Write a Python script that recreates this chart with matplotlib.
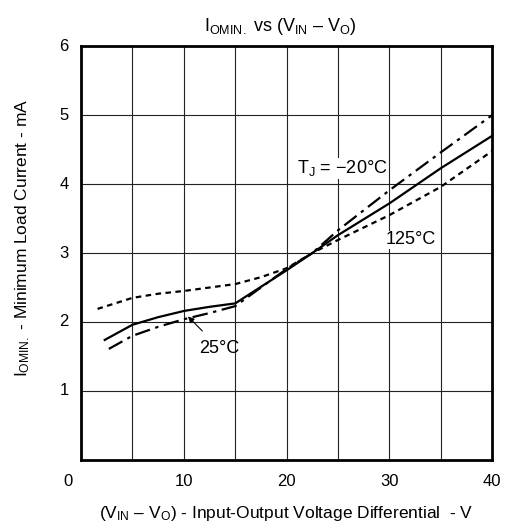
import matplotlib
matplotlib.use("Agg")
import matplotlib.pyplot as plt

plt.rcParams["font.family"] = ["Liberation Sans", "DejaVu Sans"]
plt.rcParams["mathtext.fontset"] = "custom"
plt.rcParams["mathtext.rm"] = "Liberation Sans"
plt.rcParams["mathtext.it"] = "Liberation Sans"

# -20 C (dash-dot)
x_cold = [2.7, 5, 7.5, 10, 12.5, 15, 17.5, 20, 22.5, 25, 30, 35, 40]
y_cold = [1.61, 1.80, 1.93, 2.04, 2.13, 2.23, 2.50, 2.77, 3.00, 3.33, 3.91, 4.46, 5.00]
# 25 C (solid)
x_room = [2.3, 5, 7.5, 10, 12.5, 15, 17.5, 20, 22.5, 25, 30, 35, 40]
y_room = [1.74, 1.96, 2.07, 2.16, 2.22, 2.27, 2.51, 2.75, 3.00, 3.26, 3.72, 4.23, 4.70]
# 125 C (dotted)
x_hot = [1.6, 5, 7.5, 10, 12.5, 15, 17.5, 20, 22.5, 25, 30, 35, 40]
y_hot = [2.19, 2.35, 2.41, 2.45, 2.50, 2.55, 2.65, 2.78, 3.00, 3.19, 3.55, 3.96, 4.48]

xticks = [0, 10, 20, 30, 40]
yticks = [1, 2, 3, 4, 5, 6]

fig = plt.figure(figsize=(5.1, 5.25), dpi=100)
ax = fig.add_axes([0.159, 0.124, 0.806, 0.788])

ax.plot(x_cold, y_cold, color="black", lw=1.6, dashes=(7, 2.5, 1.5, 2.5))
ax.plot(x_room, y_room, color="black", lw=1.6)
ax.plot(x_hot, y_hot, color="black", lw=1.6, dashes=(2.5, 2))

ax.set_xlim(0, 40)
ax.set_ylim(0, 6)
ax.set_xticks(range(5, 40, 5))
ax.set_yticks(range(1, 6))
ax.grid(True, color="#222222", lw=0.8)
ax.set_xticklabels([])
ax.set_yticklabels([])
ax.tick_params(length=0)
for s in ax.spines.values():
    s.set_linewidth(2)

# tick labels drawn by hand; the origin "0" sits a little left of the corner
for v in xticks:
    ax.text(v - (1.3 if v == 0 else 0), -0.2, str(v), ha="center", va="top",
            fontsize=12)
for v in yticks:
    ax.text(-1.2, v, str(v), ha="right", va="center", fontsize=12)

ax.set_title(r"I$_{\mathrm{OMIN.}}$ vs (V$_{\mathrm{IN}}$ – V$_{\mathrm{O}}$)",
             fontsize=13, pad=11, x=0.485)
ax.set_xlabel(r"(V$_{\mathrm{IN}}$ – V$_{\mathrm{O}}$) - Input-Output Voltage Differential  - V",
              fontsize=12.5, labelpad=28)
ax.set_ylabel(r"I$_{\mathrm{OMIN.}}$ - Minimum Load Current - mA",
              fontsize=12.5)
ax.yaxis.set_label_coords(-0.12, 0.536)

ax.text(21.0, 4.23, r"T$_{\mathrm{J}}$ = −20°C", fontsize=13, va="center",
        bbox=dict(facecolor="white", edgecolor="none", pad=0.5))
ax.text(29.6, 3.19, "125°C", fontsize=13, va="center",
        bbox=dict(facecolor="white", edgecolor="none", pad=0.5))
ax.annotate("25°C", xy=(10.4, 2.08), xytext=(11.5, 1.62), fontsize=13,
            va="center",
            arrowprops=dict(arrowstyle="-|>", color="black", lw=0.8,
                            shrinkA=6, shrinkB=0, mutation_scale=9))

fig.savefig("out.png", dpi=100)
